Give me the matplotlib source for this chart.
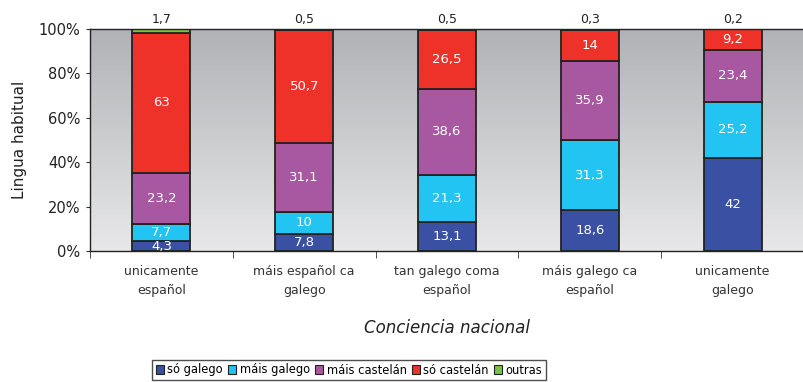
import numpy as np
import matplotlib
matplotlib.use("Agg")
import matplotlib.pyplot as plt
from matplotlib.colors import LinearSegmentedColormap

categories = ["unicamente\nespañol", "máis español ca\ngalego", "tan galego coma\nespañol",
              "máis galego ca\nespañol", "unicamente\ngalego"]
series_names = ["só galego", "máis galego", "máis castelán", "só castelán", "outras"]
so_galego = [4.3, 7.8, 13.1, 18.6, 42]
mais_galego = [7.7, 10, 21.3, 31.3, 25.2]
mais_castelan = [23.2, 31.1, 38.6, 35.9, 23.4]
so_castelan = [63, 50.7, 26.5, 14, 9.2]
outras = [1.7, 0.5, 0.5, 0.3, 0.2]
yticks = [0, 20, 40, 60, 80, 100]

colors = ["#3a50a2", "#22c4f1", "#a857a1", "#ee3129", "#7cc242"]
series = [so_galego, mais_galego, mais_castelan, so_castelan, outras]

fig = plt.figure(figsize=(8.04, 3.82), dpi=100)
ax = fig.add_axes([90 / 804, 1 - 251 / 382, 714 / 804, 222 / 382])

x = np.arange(len(categories))
data = np.array(series, dtype=float)
totals = data.sum(axis=0)
pct = data / totals * 100

# gradient background of the plot area
grad = np.linspace(0, 1, 256).reshape(-1, 1)
cmap = LinearSegmentedColormap.from_list("bg", ["#e8e8ea", "#b0b2b5"])
ax.imshow(grad, aspect="auto", cmap=cmap, origin="lower",
          extent=[-0.5, 4.5, 0, 100], zorder=0)

bottom = np.zeros(len(categories))
for i, (name, vals, col) in enumerate(zip(series_names, pct, colors)):
    ax.bar(x, vals, bottom=bottom, width=0.405, color=col, edgecolor="#222222",
           linewidth=1.3, label=name, zorder=2)
    for j, v in enumerate(vals):
        raw = series[i][j]
        txt = f"{raw:g}".replace(".", ",")
        if i < 4:
            ax.text(x[j], bottom[j] + v / 2, txt, ha="center", va="center",
                    color="white", fontsize=9.5, zorder=3)
        else:
            ax.text(x[j], 101.5, txt, ha="center", va="bottom",
                    color="#222222", fontsize=9, zorder=3)
    bottom += vals

ax.set_xlim(-0.5, 4.5)
ax.set_ylim(0, 100)
ax.set_yticks(yticks)
ax.set_yticklabels([f"{t}%" for t in yticks], fontsize=10.5, color="#222222")
ax.set_xticks(x)
ax.set_xticklabels(categories, fontsize=9, color="#333333", linespacing=1.6)
ax.set_xticks(np.arange(-0.5, 5, 1), minor=True)
ax.tick_params(axis="x", which="major", length=0, pad=10)
ax.tick_params(axis="x", which="minor", length=5, direction="out", color="#333333")
ax.tick_params(axis="y", length=3, color="#333333", pad=4)

for s in ["top", "bottom", "left"]:
    ax.spines[s].set_color("#222222")
    ax.spines[s].set_linewidth(1.0)
ax.spines["right"].set_visible(False)

ax.set_ylabel("Lingua habitual", fontsize=11, color="#222222", labelpad=8)
ax.set_xlabel("Conciencia nacional", fontsize=12, style="italic", color="#222222",
              labelpad=16)

leg = fig.legend(loc="center", bbox_to_anchor=(349 / 804, 1 - 370 / 382), ncol=5,
                 fontsize=8.3, frameon=True, fancybox=False, edgecolor="#222222",
                 handlelength=0.7, handleheight=0.7, handletextpad=0.3,
                 columnspacing=0.45, borderpad=0.3, borderaxespad=0)
leg.get_frame().set_linewidth(1.0)
for h in leg.legend_handles:
    h.set_edgecolor("#222222")
    h.set_linewidth(0.8)

fig.savefig("out.png", dpi=100)
